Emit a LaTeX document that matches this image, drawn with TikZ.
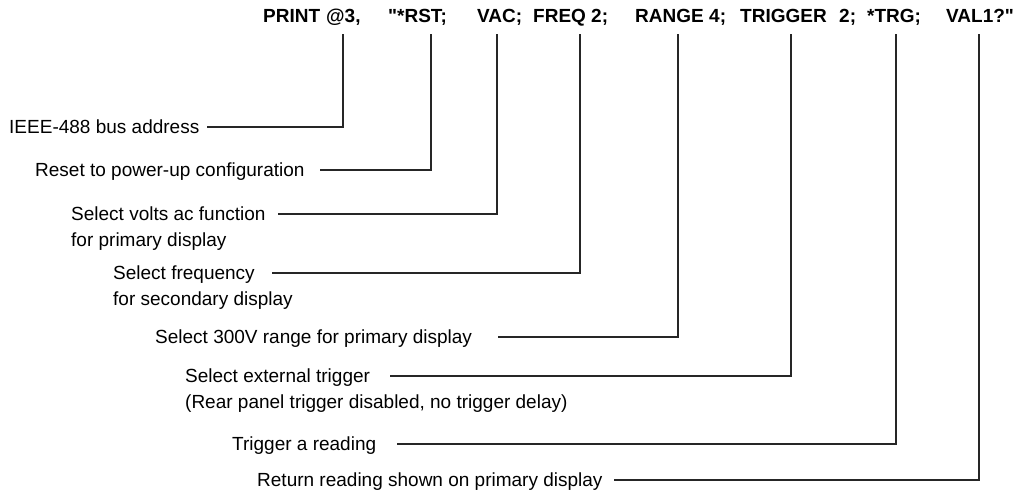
\documentclass[tikz,border=0pt]{standalone}
\usepackage{fontspec}
\setmainfont{Liberation Sans}
\begin{document}
\begin{tikzpicture}[x=1pt,y=-1pt,
  lbl/.style={anchor=base west,inner sep=0pt,font=\fontsize{19}{26}\selectfont},
  tok/.style={anchor=base west,inner sep=0pt,font=\fontsize{19}{26}\selectfont\bfseries},
  conn/.style={line width=1.2pt,draw=black!85}]
\useasboundingbox (0,0) rectangle (1018,492);
% title tokens
\node[tok] (print) at (263,23) {PRINT};
\node[tok] (addr)  at (326,23) {@3,};
\node[tok] (rst)   at (388,23) {\textquotedbl*RST;};
\node[tok] (vac)   at (477,23) {VAC;};
\node[tok] (freq)  at (533,23) {FREQ};
\node[tok] (freqn) at (591,23) {2;};
\node[tok] (range) at (635,23) {RANGE};
\node[tok] (rangen) at (709,23) {4;};
\node[tok] (trig)  at (740,23) {TRIGGER};
\node[tok] (trign) at (839,23) {2;};
\node[tok] (trg)   at (867,23) {*TRG;};
\node[tok] (val)   at (946,23) {VAL1?\textquotedbl};
% labels
\node[lbl] (l1)  at (9,133.8)   {IEEE-488 bus address};
\node[lbl] (l2)  at (35,176.8)  {Reset to power-up configuration};
\node[lbl] (l3)  at (71,220.8)  {Select volts ac function};
\node[lbl] (l3b) at (71,246.8)  {for primary display};
\node[lbl] (l4)  at (113,279.8) {Select frequency};
\node[lbl] (l4b) at (113,305.8) {for secondary display};
\node[lbl] (l5)  at (155,343.8) {Select 300V range for primary display};
\node[lbl] (l6)  at (185,382.8) {Select external trigger};
\node[lbl] (l6b) at (185,408.8) {(Rear panel trigger disabled, no trigger delay)};
\node[lbl] (l7)  at (232,450.8) {Trigger a reading};
\node[lbl] (l8)  at (257,486.8) {Return reading shown on primary display};
% connector ends
\coordinate (t1) at (343,34);
\coordinate (t2) at (431,34);
\coordinate (t3) at (497,34);
\coordinate (t4) at (580,34);
\coordinate (t5) at (678,34);
\coordinate (t6) at (791,34);
\coordinate (t7) at (896,34);
\coordinate (t8) at (979,34);
\coordinate (s1) at (207,127);
\coordinate (s2) at (320,170);
\coordinate (s3) at (278,214);
\coordinate (s4) at (272,273);
\coordinate (s5) at (498,337);
\coordinate (s6) at (390,376);
\coordinate (s7) at (397,444);
\coordinate (s8) at (614,480);
\foreach \i in {1,...,8} \draw[conn] (s\i) -| (t\i);
\end{tikzpicture}
\end{document}
